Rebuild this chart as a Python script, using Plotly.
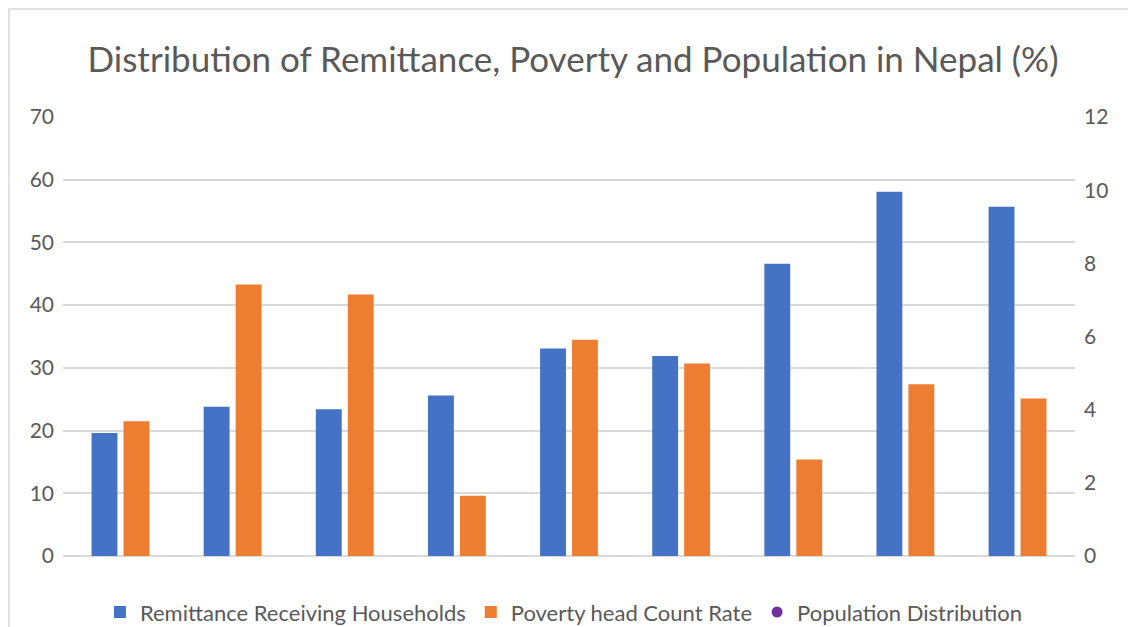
import plotly.graph_objects as go

categories = ["C1", "C2", "C3", "C4", "C5", "C6", "C7", "C8", "C9"]
remittance = [19.6, 23.8, 23.4, 25.6, 33.1, 31.9, 46.6, 58.1, 55.7]
poverty = [21.5, 43.3, 41.7, 9.6, 34.5, 30.7, 15.4, 27.4, 25.1]
population = [None] * 9

left_ticks = [0, 10, 20, 30, 40, 50, 60, 70]
right_ticks = [0, 2, 4, 6, 8, 10, 12]

FONT = "Lato, 'Open Sans', sans-serif"
GREY = "#595959"
GRID = "#D9D9D9"

fig = go.Figure()
fig.add_trace(go.Bar(x=categories, y=remittance, name="Remittance Receiving Households",
                     marker=dict(color="#4472C4", line=dict(width=0))))
fig.add_trace(go.Bar(x=categories, y=poverty, name="Poverty head Count Rate",
                     marker=dict(color="#ED7D31", line=dict(width=0))))
fig.add_trace(go.Scatter(x=categories, y=population, name="Population Distribution",
                         mode="markers", yaxis="y2",
                         marker=dict(color="#7030A0", size=11, symbol="circle")))

fig.update_layout(
    width=1128, height=627,
    margin=dict(l=63, r=53, t=117, b=71, autoexpand=False),
    paper_bgcolor="white", plot_bgcolor="white",
    font=dict(family=FONT, color=GREY, size=21),
    title=dict(text="Distribution of Remittance, Poverty and Population in Nepal (%)",
               x=0.508, xanchor="center", y=1 - 60 / 627, yanchor="middle",
               font=dict(size=35, color=GREY, family=FONT)),
    barmode="group", bargap=0.43, bargroupgap=0.19,
    xaxis=dict(showticklabels=False, showgrid=False, zeroline=False, showline=False,
               ticks=""),
    yaxis=dict(range=[0, 70], tickvals=left_ticks, showgrid=True, gridcolor=GRID,
               gridwidth=1.5, zeroline=True, zerolinecolor=GRID, zerolinewidth=1.5,
               showline=False, ticks="", ticklabelstandoff=8,
               tickfont=dict(size=21, color=GREY)),
    yaxis2=dict(range=[0, 12], tickvals=right_ticks, overlaying="y", side="right",
                showgrid=False, zeroline=False, showline=False, ticks="",
                ticklabelstandoff=8, tickfont=dict(size=21, color=GREY)),
    legend=dict(orientation="h", x=0.495, xanchor="center", y=-0.128, yanchor="middle",
                font=dict(size=22, color=GREY), traceorder="normal",
                itemwidth=30, tracegroupgap=0),
    showlegend=True,
    shapes=[dict(type="rect", xref="paper", yref="paper",
                 x0=(9 - 63) / 1012, x1=1.2, y0=-0.5, y1=(556 - 9) / 439,
                 line=dict(color=GRID, width=1.5), layer="below")],
)

fig.write_html("out.html")
